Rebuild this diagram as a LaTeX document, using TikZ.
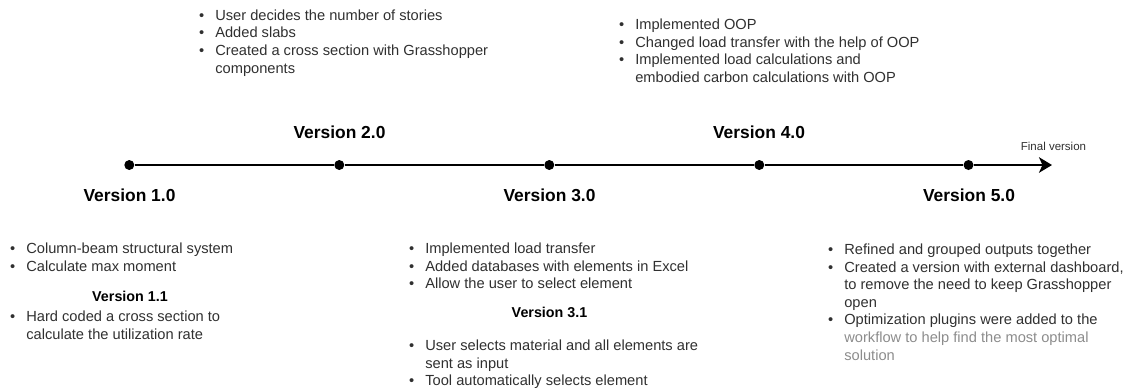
\documentclass[tikz,border=0pt]{standalone}
\usepackage{fontspec}
\setmainfont{Liberation Sans}
\usetikzlibrary{arrows.meta}
\definecolor{txt}{HTML}{303030}
\definecolor{lt}{HTML}{8C8C8C}
\newcommand{\bodyfnt}{\fontsize{14.65}{17.6}\selectfont}
\newenvironment{blist}{\bodyfnt\begin{tabular}[t]{@{}l@{\hspace{11pt}}l@{}}}{\end{tabular}}
\tikzset{
  body/.style={anchor=base west, inner sep=0pt, text=txt, font=\bodyfnt},
  ver/.style={inner sep=0pt, anchor=center, text=black, font=\fontsize{17.4}{20}\selectfont\bfseries},
  sub/.style={inner sep=0pt, anchor=center, text=black, font=\fontsize{14.3}{17}\selectfont\bfseries},
  fin/.style={inner sep=0pt, anchor=center, text=txt, font=\fontsize{11.5}{13}\selectfont},
  dot/.style={circle, fill=black, inner sep=0pt, minimum size=10pt},
  tl/.style={line width=2.6pt, black}
}
\begin{document}
\begin{tikzpicture}[x=1pt, y=-1pt]
\useasboundingbox (0,0) rectangle (1127,389);
% timeline
\node[dot] (d1) at (129.3,165) {};
\node[dot] (d2) at (339.3,165) {};
\node[dot] (d3) at (549.3,165) {};
\node[dot] (d4) at (759.3,165) {};
\node[dot] (d5) at (968.5,165) {};
\coordinate (end) at (1052,165);
\draw[tl] (d1) -- (d2);
\draw[tl] (d2) -- (d3);
\draw[tl] (d3) -- (d4);
\draw[tl] (d4) -- (d5);
\draw[tl, -{Stealth[length=13pt, width=15.5pt, inset=3.5pt]}] (d5) -- (end);
% version labels
\node[ver] (v10) at (129.5,195.5) {Version 1.0};
\node[ver] (v20) at (339.5,132.5) {Version 2.0};
\node[ver] (v30) at (549.5,195.5) {Version 3.0};
\node[ver] (v40) at (759,132.5) {Version 4.0};
\node[ver] (v50) at (969,195.5) {Version 5.0};
\node[fin] (fv) at (1053.5,146) {Final version};
% sub headings
\node[sub] (v11) at (130,296.7) {Version 1.1};
\node[sub] (v31) at (549.5,312.5) {Version 3.1};
% text blocks
\node[body] (b1a) at (10,253.5) {\begin{blist}
•&Column-beam structural system\\
•&Calculate max moment
\end{blist}};
\node[body] (b1b) at (10,321.5) {\begin{blist}
•&Hard coded a cross section to\\
&calculate the utilization rate
\end{blist}};
\node[body] (b2) at (199,20.3) {\begin{blist}
•&User decides the number of stories\\
•&Added slabs\\
•&Created a cross section with Grasshopper\\
&components
\end{blist}};
\node[body] (b3a) at (409,253.5) {\begin{blist}
•&Implemented load transfer\\
•&Added databases with elements in Excel\\
•&Allow the user to select element
\end{blist}};
\node[body] (b3b) at (409,350.5) {\begin{blist}
•&User selects material and all elements are\\
&sent as input\\
•&Tool automatically selects element
\end{blist}};
\node[body] (b4) at (619,29.5) {\begin{blist}
•&Implemented OOP\\
•&Changed load transfer with the help of OOP\\
•&Implemented load calculations and\\
&embodied carbon calculations with OOP
\end{blist}};
\node[body] (b5) at (828,254.5) {\begin{blist}
•&Refined and grouped outputs together\\
•&Created a version with external dashboard,\\
&to remove the need to keep Grasshopper\\
&open\\
•&Optimization plugins were added to the\\
&\textcolor{lt}{workflow to help find the most optimal}\\
&\textcolor{lt}{solution}
\end{blist}};
\end{tikzpicture}
\end{document}
